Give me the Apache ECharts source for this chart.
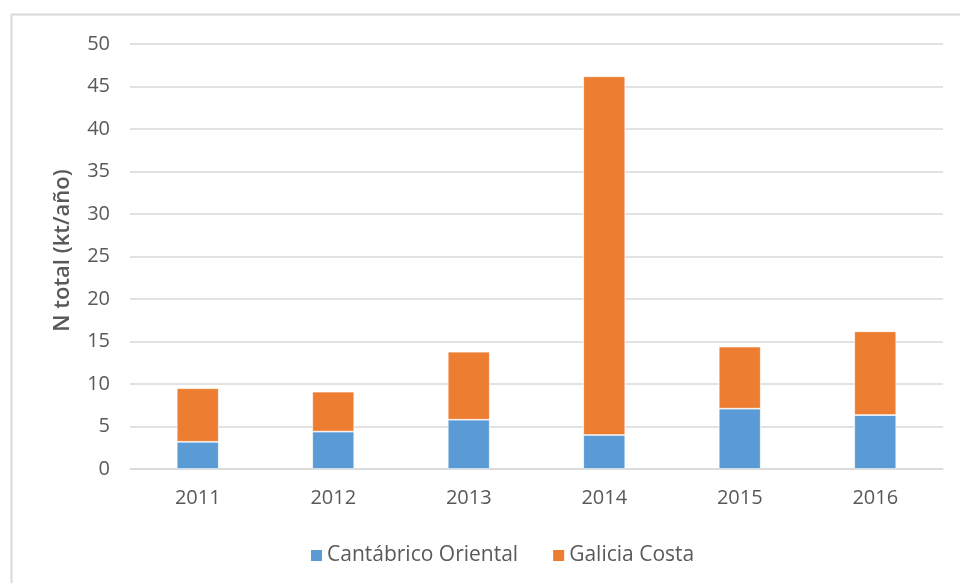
<!DOCTYPE html>
<html style="height: 100%">
<head>
<meta charset="utf-8">
<script src="https://cdn.jsdelivr.net/npm/echarts@6/dist/echarts.min.js"></script>
</head>
<body style="height: 100%; margin: 0; background: #fff">
<div id="container" style="width: 960px; height: 583px"></div>
<script>
// años y valores por serie (kt/año)
var years = ['2011', '2012', '2013', '2014', '2015', '2016'];
var cantabrico = [3.2, 4.4, 5.8, 4.0, 7.1, 6.35];
var galicia = [6.3, 4.7, 8.0, 42.2, 7.3, 9.85];

var chart = echarts.init(document.getElementById('container'));
var textFont = 'Open Sans';

var option = {
  backgroundColor: '#ffffff',
  animation: false,
  graphic: [{
    type: 'rect',
    shape: { x: 11.5, y: 14.5, width: 960, height: 600 },
    style: { fill: 'none', stroke: '#d9d9d9', lineWidth: 2 }
  }],
  grid: { left: 130, right: 17, top: 44, bottom: 114 },
  legend: {
    top: 540,
    left: 304,
    itemWidth: 13,
    itemHeight: 13,
    itemGap: 33,
    icon: 'rect',
    textStyle: { color: '#595959', fontSize: 21, fontFamily: textFont, padding: [0, 0, 0, -1] },
    data: ['Cantábrico Oriental', 'Galicia Costa']
  },
  xAxis: {
    type: 'category',
    data: years,
    axisLine: { lineStyle: { color: '#d9d9d9', width: 1.5 } },
    axisTick: { show: false },
    axisLabel: { color: '#595959', fontSize: 20, fontFamily: textFont, margin: 19 }
  },
  yAxis: {
    type: 'value',
    min: 0,
    max: 50,
    interval: 5,
    name: 'N total (kt/año)',
    nameLocation: 'middle',
    nameGap: 56,
    nameTextStyle: { color: '#595959', fontSize: 22, fontWeight: 600, fontFamily: textFont, padding: [0, 0, 0, 12] },
    axisLine: { show: false },
    axisTick: { show: false },
    axisLabel: { color: '#595959', fontSize: 20, fontFamily: textFont, margin: 20 },
    splitLine: { lineStyle: { color: '#d9d9d9', width: 1.5 } }
  },
  series: [
    {
      name: 'Cantábrico Oriental',
      type: 'bar',
      stack: 'total',
      barWidth: 42,
      data: cantabrico,
      itemStyle: { color: '#5b9bd5', borderColor: '#ffffff', borderWidth: 0.7 }
    },
    {
      name: 'Galicia Costa',
      type: 'bar',
      stack: 'total',
      barWidth: 42,
      data: galicia,
      itemStyle: { color: '#ed7d31', borderColor: '#ffffff', borderWidth: 0.7 }
    }
  ]
};
chart.setOption(option);
</script>
</body>
</html>
